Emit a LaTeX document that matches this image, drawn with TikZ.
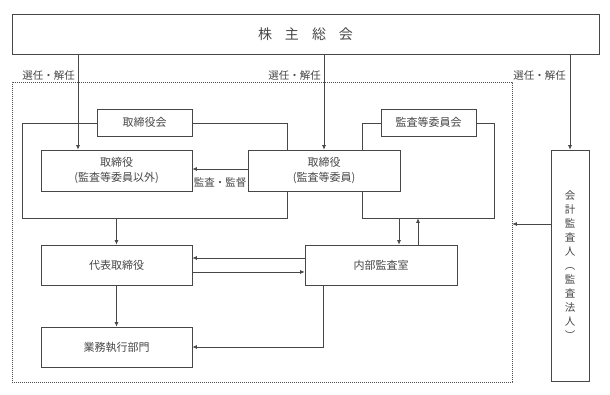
\documentclass[tikz,border=0pt]{standalone}
\usepackage{fontspec}
\setmainfont{Noto Sans CJK JP}
\usetikzlibrary{arrows.meta,calc}
\begin{document}
\begin{tikzpicture}[x=1pt,y=-1pt,
 line/.style={draw=black!72, line width=0.7pt},
 arr/.style={line, -{Latex[length=4.5pt,width=4pt]}},
 box/.style={line, fill=white, rectangle, inner sep=0pt, align=center, font=\fontsize{11}{15}\selectfont, text=black!72},
 lbl/.style={inner sep=0pt, font=\fontsize{10.5}{12}\selectfont, text=black!72},
 frame/.style={line, rectangle, inner sep=0pt},
]
\useasboundingbox (0,0) rectangle (610,395);
% outer dashed area
\node[draw=black!70, line width=0.6pt, dash pattern=on 1.2pt off 0.8pt, minimum width=500pt, minimum height=300pt, inner sep=0pt] (dash) at (262,232) {};
% top
\node[box, minimum width=587pt, minimum height=40pt, font=\fontsize{14}{16}\selectfont] (top) at (305.5,34) {株\hspace{13pt}主\hspace{13pt}総\hspace{13pt}会};
% frames
\node[frame, minimum width=265pt, minimum height=95pt] (f1) at (154.5,170.5) {};
\node[frame, minimum width=132pt, minimum height=95pt] (f2) at (428,170.5) {};
% label boxes
\node[box, minimum width=95pt, minimum height=27pt] (tbk) at (144.5,122.5) {取締役会};
\node[box, minimum width=95pt, minimum height=27pt] (kik) at (428.5,122.5) {監査等委員会};
% boxes
\node[box, minimum width=151pt, minimum height=41pt] (A) at (116.5,170.5) {取締役\\(監査等委員以外)};
\node[box, minimum width=152pt, minimum height=41pt] (B) at (324,170.5) {取締役\\(監査等委員)};
\node[box, minimum width=151pt, minimum height=40pt] (C) at (116.5,265) {代表取締役};
\node[box, minimum width=152pt, minimum height=40pt] (D) at (381,265) {内部監査室};
\node[box, minimum width=151pt, minimum height=40pt] (E) at (116.5,347) {業務執行部門};
\node[box, minimum width=38pt, minimum height=231pt, font=\fontsize{10.5}{14}\selectfont] (F) at (570,265.5) {会\\計\\監\\査\\人\\︵\\監\\査\\法\\人\\︶};
% coordinates
\coordinate (p1) at (78,0);
\coordinate (d1) at ($(D.north)+(18,0)$);
\coordinate (d2) at ($(D.north)+(37,0)$);
\coordinate (d3) at ($(D.south)+(-58,0)$);
\coordinate (q) at (0,224);
% selection arrows
\draw[arr] (top.south -| p1) -- (A.north -| p1);
\draw[arr] (top.south -| B) -- (B.north);
\draw[arr] (top.south -| F) -- (F.north);
\node[lbl, anchor=east] (s1) at (75,76) {選任・解任};
\node[lbl, anchor=east] (s2) at (321,76) {選任・解任};
\node[lbl, anchor=east] (s3) at (566,76) {選任・解任};
% audit
\draw[arr] ([yshift=1.5pt]B.west) -- ([yshift=1.5pt]A.east);
\node[lbl] (ks) at (220,183) {監査・監督};
% lower flows
\draw[arr] (f1.south -| C) -- (C.north);
\draw[arr] (C.south) -- (E.north);
\draw[arr] ([yshift=7pt]D.west) -- ([yshift=7pt]C.east);
\draw[arr] ([yshift=-7pt]C.east) -- ([yshift=-7pt]D.west);
\draw[arr] (f2.south -| d1) -- (d1);
\draw[arr] (d2) -- (f2.south -| d2);
\draw[arr] (d3) |- (E.east);
\draw[arr] (F.west |- q) -- (dash.east |- q);
\end{tikzpicture}
\end{document}
